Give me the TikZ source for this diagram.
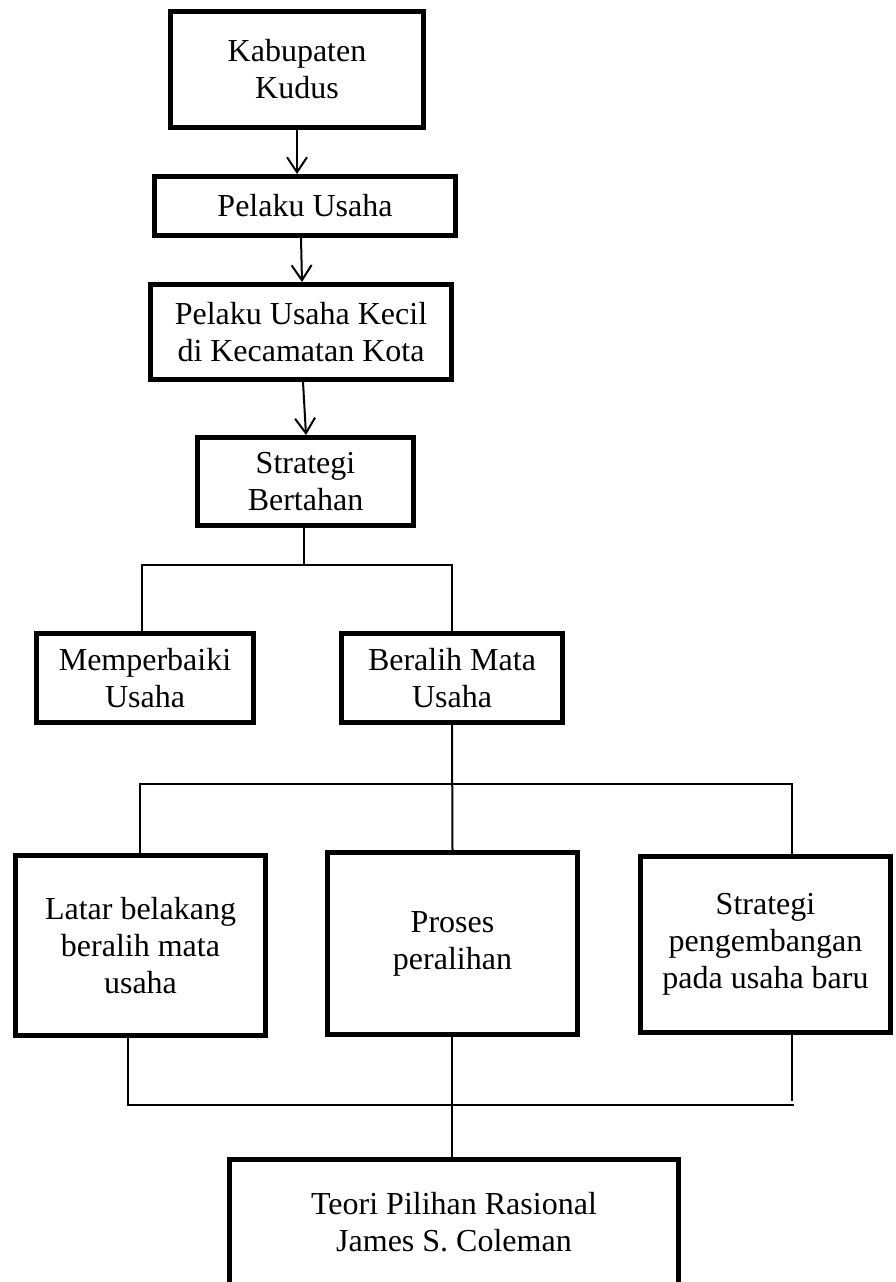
\documentclass[tikz,border=0pt]{standalone}
\usepackage{fontspec}
\setmainfont{Liberation Serif}
\usetikzlibrary{arrows.meta}
\tikzset{
  box/.style={draw=black, line width=5pt, inner sep=0pt, align=center,
    font=\fontsize{32}{37}\selectfont},
  conn/.style={draw=black, line width=2pt},
  arr/.style={draw=black, line width=2pt, -{Straight Barb[length=15pt,width=20pt,line width=2pt]}}
}
\begin{document}
\begin{tikzpicture}[x=1pt,y=-1pt]
\useasboundingbox (0,0) rectangle (895,1282);
\fill[white] (0,0) rectangle (895,1282);
% boxes (sizes are centreline sizes = outer size - 5)
\node[box, minimum width=253pt, minimum height=116pt] (b1) at (297,69.5) {Kabupaten\\Kudus};
\node[box, minimum width=301pt, minimum height=59pt] (b2) at (305,206) {Pelaku Usaha};
\node[box, minimum width=301pt, minimum height=95pt] (b3) at (301,332) {Pelaku Usaha Kecil\\di Kecamatan Kota};
\node[box, minimum width=216pt, minimum height=88pt] (b4) at (305.5,481.5) {Strategi\\Bertahan};
\node[box, minimum width=217pt, minimum height=89pt] (b5) at (145,678) {Memperbaiki\\Usaha};
\node[box, minimum width=221pt, minimum height=89pt] (b6) at (452,678) {Beralih Mata\\Usaha};
\node[box, minimum width=250pt, minimum height=180pt] (b7) at (140.5,945.5) {Latar belakang\\beralih mata\\usaha};
\node[box, minimum width=250pt, minimum height=182pt] (b8) at (452.5,943.5) {Proses\\peralihan};
\node[box, minimum width=250pt, minimum height=176pt] (b9) at (765.5,944.5) {Strategi\\pengembangan\\pada usaha baru};
\node[box, minimum width=449pt, minimum height=126pt] (b10) at (454,1222.5) {Teori Pilihan Rasional\\James S. Coleman};
% arrows
\draw[arr] (b1.south) -- (b1.south |- b2.north);
\draw[arr] ([xshift=-4pt]b2.south) -- ([xshift=1pt]b3.north);
\draw[arr] ([xshift=2pt]b3.south) -- ([xshift=0.5pt]b4.north);
% first branching
\coordinate (j1) at (304,565);
\coordinate (j1l) at (142,565);
\coordinate (j1r) at (452,565);
\draw[conn] (b4.south -| j1) -- (j1);
\draw[conn] (j1l |- b5.north) -- (j1l) -- (j1r) -- (b6.north);
% second branching
\coordinate (j2l) at (140,784);
\coordinate (j2r) at (792,784);
\draw[conn] (b6.south) -- (b8.north);
\draw[conn] (j2l |- b7.north) -- (j2l) -- (j2r) -- (j2r |- b9.north);
% joining
\coordinate (j3l) at (128,1105);
\coordinate (j3r) at (794,1105);
\coordinate (j3rv) at (792,1101);
\draw[conn] (j3l |- b7.south) -- (j3l) -- (j3r);
\draw[conn] (j3rv |- b9.south) -- (j3rv);
\draw[conn] ([xshift=-1pt]b8.south) -- ([xshift=-1pt]b8.south |- b10.north);
\end{tikzpicture}
\end{document}
